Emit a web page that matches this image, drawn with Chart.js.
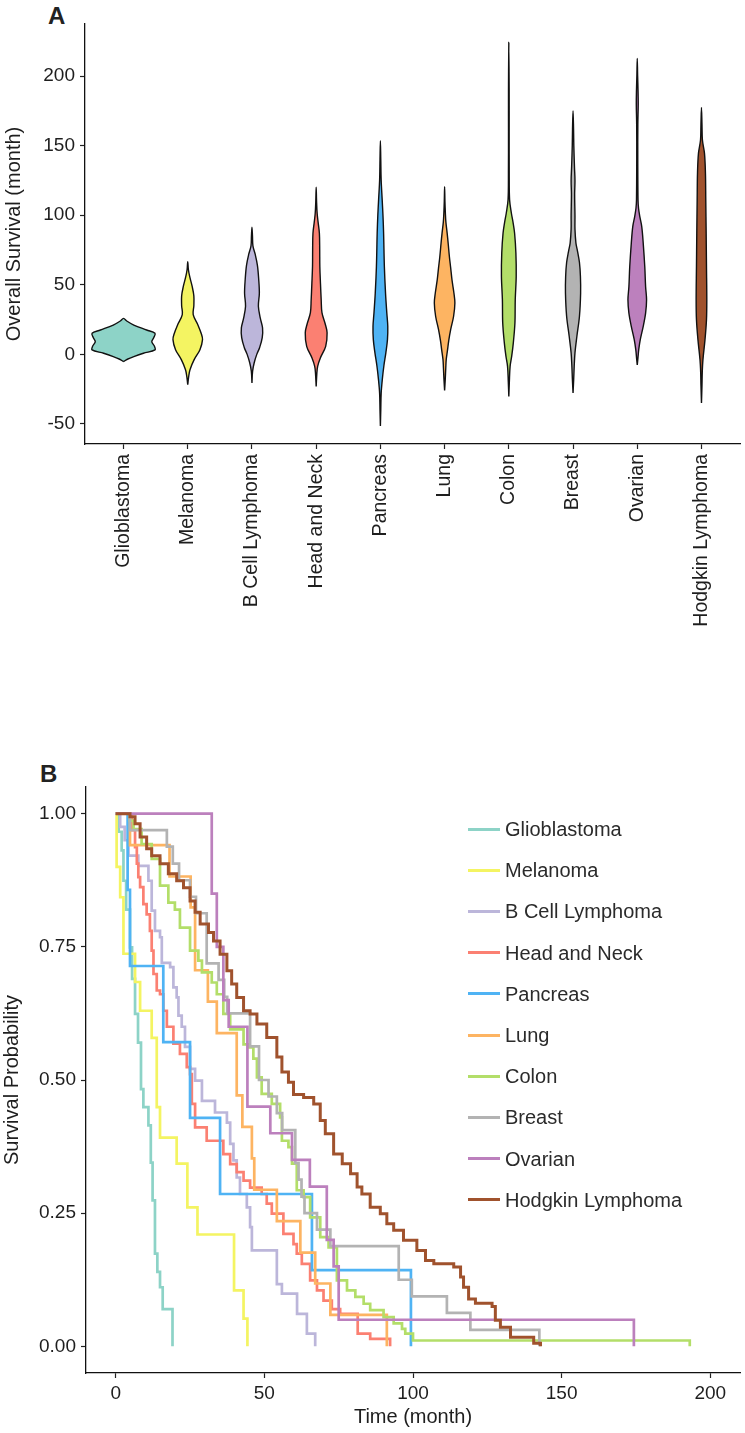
<!DOCTYPE html>
<html>
<head>
<meta charset="utf-8">
<script src="https://cdn.jsdelivr.net/npm/chart.js@4.4.1/dist/chart.umd.min.js"></script>
<style>
  html, body { margin: 0; padding: 0; background: #fff; }
  body { width: 745px; height: 1433px; position: relative; overflow: hidden; font-family: "Liberation Sans", Arial, Helvetica, sans-serif; }
  .panel { position: absolute; font-weight: bold; font-size: 24px; color: #222; line-height: 24px; }
  #c1 { position: absolute; left: 0; top: 0; }
  #c2 { position: absolute; left: 0; top: 760px; }
  .lg { position: absolute; left: 0; top: 0; }
  .lg .sw { position: absolute; width: 32px; height: 3px; }
  .lg .tx { position: absolute; font-size: 20px; color: #2b2b2b; white-space: nowrap; line-height: 20px; }
</style>
</head>
<body>
<div class="panel" style="left:48px; top:4px;">A</div>
<div class="panel" style="left:40px; top:762px;">B</div>
<canvas id="c1" width="745" height="660"></canvas>
<canvas id="c2" width="745" height="673"></canvas>
<div id="legend"></div>
<script>
// ---------- categories, colours ----------
const categories = ['Glioblastoma', 'Melanoma', 'B Cell Lymphoma', 'Head and Neck', 'Pancreas',
                    'Lung', 'Colon', 'Breast', 'Ovarian', 'Hodgkin Lymphoma'];
const colors = ['#8dd3c7', '#f4f462', '#bcb6da', '#fb8072', '#4fb3f4',
                '#fdb462', '#b3de69', '#b3b3b3', '#bc80bd', '#a0522d'];

// ---------- panel A: violin outlines, [survival (month), half density width] ----------
const violinGlioblastoma = [[-5.2,0],[-3.5,0.06],[-1.6,0.16],[0.8,0.31],[3.2,0.49],[6,0.48],[9.1,0.44],[12,0.47],[15.2,0.49],[17.5,0.36],[21.1,0.16],[24,0.05],[25.9,0]];
const violinMelanoma = [[-21.8,0],[-15.8,0.015],[-11,0.035],[-3.8,0.1],[3.4,0.19],[10.6,0.23],[15,0.21],[21,0.16],[28.5,0.085],[35,0.095],[42,0.095],[49,0.068],[56,0.03],[61,0.01],[66.6,0]];
const violinBCell = [[-20.6,0],[-12,0.01],[-6,0.035],[0,0.075],[5,0.12],[12,0.16],[19,0.165],[26,0.13],[34.6,0.1],[44,0.115],[54,0.105],[64,0.085],[72,0.05],[78,0.015],[85,0.008],[91.4,0]];
const violinHeadNeck = [[-23,0],[-14,0.01],[-8.6,0.023],[-2.6,0.065],[5.8,0.148],[15.5,0.17],[22,0.14],[30,0.09],[39.2,0.078],[51,0.067],[63.2,0.057],[75,0.055],[87,0.05],[95,0.03],[101.4,0.015],[110,0.006],[120.2,0]];
const violinPancreas = [[-51.4,0],[-40,0.006],[-28,0.012],[-18,0.03],[-8,0.055],[1.1,0.085],[10.6,0.11],[20.2,0.115],[29.7,0.1],[44,0.08],[63,0.062],[87,0.05],[100,0.04],[111,0.028],[125.3,0.012],[140,0.006],[153.5,0]];
const violinLung = [[-26,0],[-18,0.01],[-10,0.018],[-3.8,0.025],[3,0.045],[10,0.065],[17.9,0.095],[27.4,0.14],[36.9,0.16],[44.1,0.145],[53.5,0.115],[62,0.095],[70,0.075],[80,0.055],[87,0.04],[95,0.02],[101.4,0.012],[110,0.005],[120.5,0]];
const violinColon = [[-30.3,0],[-20,0.008],[-8.6,0.02],[-1.3,0.045],[8.3,0.07],[22.6,0.095],[39.3,0.1],[56.1,0.115],[72.8,0.11],[87,0.09],[95,0.065],[101.4,0.04],[111,0.012],[130,0.006],[160,0.005],[190,0.005],[224.2,0]];
const violinBreast = [[-27.7,0],[-18,0.01],[-8.6,0.018],[1.1,0.03],[13,0.06],[27.4,0.1],[44.1,0.118],[56.1,0.115],[66,0.1],[74,0.07],[80,0.045],[90,0.03],[100,0.03],[115,0.025],[125,0.03],[135,0.022],[150,0.012],[162,0.008],[175.1,0]];
const violinOvarian = [[-7.6,0],[-2,0.012],[3.4,0.023],[10.6,0.047],[20.2,0.093],[29.7,0.13],[39.2,0.145],[48.7,0.13],[63.1,0.117],[79.8,0.093],[91.8,0.07],[99,0.04],[105,0.02],[111,0.012],[140,0.008],[165,0.009],[180,0.015],[190,0.012],[200,0.006],[212.7,0]];
const violinHodgkin = [[-35,0],[-22,0.008],[-13.3,0.012],[-3.8,0.023],[10.6,0.055],[24.9,0.078],[39.2,0.083],[63.1,0.078],[87,0.073],[110.9,0.067],[130,0.062],[144.4,0.047],[154,0.015],[165,0.008],[177.5,0]];
const violins = [violinGlioblastoma, violinMelanoma, violinBCell, violinHeadNeck, violinPancreas,
                 violinLung, violinColon, violinBreast, violinOvarian, violinHodgkin];
const survivalTicks = [-50, 0, 50, 100, 150, 200];

// ---------- panel B: Kaplan-Meier curves, [time (month), survival probability] ----------
const kmGlioblastoma = [[0,1],[1,0.966],[2,0.931],[2.6,0.874],[3.5,0.82],[4.8,0.749],[5.5,0.69],[6.5,0.624],[7.5,0.57],[8.5,0.483],[9.3,0.449],[11,0.415],[11.8,0.345],[12.4,0.274],[13.2,0.174],[14,0.14],[14.9,0.111],[15.8,0.07],[19.1,0]];
const kmMelanoma = [[0,1],[0.3,0.9],[1.5,0.843],[2.6,0.737],[6.5,0.684],[8.2,0.63],[12.1,0.579],[13.8,0.449],[14.9,0.392],[20.5,0.343],[24.1,0.261],[27.5,0.21],[39.8,0.105],[43,0.052],[44.3,0]];
const kmBCell = [[0,1],[1.5,0.975],[3,0.95],[4.3,0.921],[7.6,0.902],[11,0.874],[12.1,0.818],[13.2,0.78],[14.9,0.768],[15.5,0.72],[18.3,0.712],[19.4,0.674],[20.5,0.655],[21.1,0.621],[22.2,0.6],[23.3,0.562],[25,0.521],[26.7,0.499],[29,0.461],[33.4,0.439],[37.4,0.42],[38.5,0.38],[39.6,0.349],[40.7,0.317],[41.8,0.286],[44.1,0.261],[45.2,0.224],[45.8,0.18],[54.2,0.117],[55.9,0.099],[61,0.061],[64.3,0.024],[67.1,0]];
const kmHeadNeck = [[0,1],[4.8,0.994],[5.4,0.969],[6.5,0.937],[7.1,0.906],[7.6,0.881],[8.2,0.862],[9.3,0.83],[10.4,0.811],[11.5,0.78],[12.1,0.743],[12.7,0.699],[13.8,0.668],[14.9,0.661],[16,0.63],[17.2,0.6],[19.4,0.568],[21.6,0.549],[23.9,0.524],[25,0.511],[25.6,0.455],[26.7,0.411],[30.6,0.386],[36.2,0.361],[38.5,0.342],[40.7,0.327],[43,0.311],[45.2,0.298],[49.1,0.286],[50.8,0.268],[52.5,0.249],[56.4,0.211],[59.8,0.192],[60.9,0.174],[62.6,0.155],[65.4,0.124],[67.7,0.105],[69.9,0.086],[72.7,0.07],[75.5,0.061],[81.4,0.024],[85.6,0.014],[92.3,0]];
const kmPancreas = [[0,1],[4,0.857],[4.8,0.714],[16,0.571],[25,0.429],[35.1,0.286],[66,0.143],[99.3,0]];
const kmLung = [[0,1],[4.8,0.941],[18.1,0.882],[25.2,0.824],[26.7,0.706],[31,0.647],[34,0.588],[40.7,0.471],[42.6,0.412],[45.8,0.353],[46.6,0.294],[54.2,0.235],[62.1,0.176],[67.1,0.118],[72.2,0.059],[91.2,0]];
const kmColon = [[0,1],[4.8,0.987],[6,0.971],[8.7,0.943],[12.1,0.915],[14.9,0.865],[17.7,0.833],[19.9,0.82],[21.6,0.786],[25,0.743],[27.8,0.724],[29,0.702],[32.3,0.683],[34,0.661],[36.2,0.624],[38.5,0.595],[43,0.567],[44.6,0.561],[46.3,0.54],[47.5,0.505],[49.1,0.474],[52.5,0.455],[55.3,0.43],[55.9,0.386],[58.1,0.374],[59.3,0.343],[60.9,0.293],[63.2,0.28],[65.4,0.242],[68.8,0.205],[71.6,0.186],[74.4,0.124],[77.8,0.105],[80.6,0.093],[83.4,0.08],[85.6,0.068],[90.1,0.055],[93.5,0.043],[96.3,0.033],[97.4,0.024],[100,0.011],[193.1,0]];
const kmBreast = [[0,1],[4.8,0.969],[17.2,0.938],[19.2,0.906],[21.3,0.875],[25,0.844],[27,0.813],[30.6,0.719],[34.6,0.688],[36.5,0.656],[37.5,0.625],[45.2,0.563],[48.2,0.5],[51.4,0.469],[54.2,0.438],[56,0.406],[60.4,0.344],[61.5,0.313],[62.5,0.281],[63.5,0.25],[67.7,0.219],[72.2,0.188],[95.2,0.125],[99.6,0.094],[111.4,0.063],[119.3,0.031],[142.5,0]];
const kmOvarian = [[0,1],[32.3,0.85],[34,0.75],[36.2,0.65],[38,0.6],[44.3,0.45],[52,0.4],[59.3,0.35],[65.3,0.3],[71,0.2],[73.3,0.15],[75,0.05],[174.3,0]];
const kmHodgkin = [[0,1],[4.8,0.994],[6.5,0.981],[8.2,0.956],[10.4,0.934],[12.1,0.921],[14.9,0.906],[17.7,0.887],[20.5,0.874],[22.8,0.861],[25,0.836],[26.7,0.815],[28.4,0.793],[31.2,0.777],[32.9,0.761],[35.1,0.736],[37.4,0.705],[39,0.68],[40.7,0.655],[43,0.63],[45.2,0.624],[47.5,0.605],[50.8,0.58],[54.2,0.543],[55.9,0.515],[58.1,0.496],[59.8,0.473],[63.2,0.467],[66.6,0.455],[68.8,0.424],[70.5,0.399],[73.3,0.361],[76.2,0.343],[79,0.324],[81.2,0.299],[82.8,0.286],[85.6,0.261],[89,0.249],[91.2,0.23],[93.5,0.218],[96.8,0.199],[101.3,0.18],[104.2,0.161],[107,0.155],[113.7,0.149],[116,0.13],[117,0.111],[118.7,0.089],[121,0.081],[126.6,0.075],[127.7,0.049],[129.4,0.036],[132.8,0.017],[140.6,0.006],[142.9,0]];
const kmCurves = [kmGlioblastoma, kmMelanoma, kmBCell, kmHeadNeck, kmPancreas,
                  kmLung, kmColon, kmBreast, kmOvarian, kmHodgkin];
const timeTicks = [0, 50, 100, 150, 200];
const probTicks = [0, 0.25, 0.5, 0.75, 1];

// ---------- shared styling ----------
const FONT = '"Liberation Sans", Arial, Helvetica, sans-serif';
const tickFont = { family: FONT, size: 19 };
const titleFont = { family: FONT, size: 20 };
const axisGrid = { drawOnChartArea: false, drawTicks: true, tickLength: 5, color: '#222', tickWidth: 1.2 };
const axisBorder = { display: true, color: '#111', width: 1.3 };

// ---------- Chart A: violins ----------
const violinDatasets = violins.map((arr, i) => {
  const c = i + 1;
  const right = arr.map(([v, w]) => ({ x: c + w, y: v }));
  const left = arr.slice().reverse().slice(1).map(([v, w]) => ({ x: c - w, y: v }));
  return {
    label: categories[i],
    data: right.concat(left),
    borderColor: '#111',
    borderWidth: 1.4,
    backgroundColor: colors[i],
    fill: 'shape',
    pointRadius: 0,
    tension: 0.35
  };
});

new Chart(document.getElementById('c1'), {
  type: 'line',
  data: { datasets: violinDatasets },
  options: {
    responsive: false, animation: false, devicePixelRatio: 1,
    layout: { padding: { left: 0, top: 24, right: 5, bottom: 0 } },
    plugins: { legend: { display: false }, tooltip: { enabled: false } },
    scales: {
      x: {
        type: 'linear', min: 0.4, max: 10.6,
        afterBuildTicks: s => { s.ticks = categories.map((_, i) => ({ value: i + 1 })); },
        afterFit: s => { s.height = 216; },
        grid: axisGrid, border: axisBorder,
        ticks: {
          autoSkip: false, minRotation: 90, maxRotation: 90, padding: 5,
          color: '#1e1e1e', font: { family: FONT, size: 19.5 },
          callback: v => categories[Math.round(v) - 1]
        }
      },
      y: {
        type: 'linear', min: -64.4, max: 237.4,
        afterBuildTicks: s => { s.ticks = survivalTicks.map(v => ({ value: v })); },
        afterFit: s => { s.width = 85; },
        grid: axisGrid, border: axisBorder,
        ticks: { color: '#1e1e1e', font: tickFont, padding: 5 },
        title: { display: true, text: 'Overall Survival (month)', color: '#1e1e1e', font: titleFont, padding: { top: 2, bottom: 0 } }
      }
    }
  }
});

// ---------- Chart B: Kaplan-Meier ----------
const kmDatasets = kmCurves.map((arr, i) => ({
  label: categories[i],
  data: arr.map(([t, s]) => ({ x: t, y: s })),
  borderColor: colors[i],
  borderWidth: i === 9 ? 3 : 2.7,
  stepped: 'before',
  fill: false,
  pointRadius: 0,
  tension: 0
})).reverse(); // last category drawn on top

new Chart(document.getElementById('c2'), {
  type: 'line',
  data: { datasets: kmDatasets },
  options: {
    responsive: false, animation: false, devicePixelRatio: 1,
    layout: { padding: { left: 0, top: 27, right: 5, bottom: 0 } },
    plugins: { legend: { display: false }, tooltip: { enabled: false } },
    scales: {
      x: {
        type: 'linear', min: -10, max: 210,
        afterBuildTicks: s => { s.ticks = timeTicks.map(v => ({ value: v })); },
        afterFit: s => { s.height = 60; },
        grid: axisGrid, border: axisBorder,
        ticks: { color: '#1e1e1e', font: tickFont, padding: 4, maxRotation: 0 },
        title: { display: true, text: 'Time (month)', color: '#1e1e1e', font: titleFont, padding: { top: 0, bottom: 4 } }
      },
      y: {
        type: 'linear', min: -0.05, max: 1.05,
        afterBuildTicks: s => { s.ticks = probTicks.map(v => ({ value: v })); },
        afterFit: s => { s.width = 86; },
        grid: axisGrid, border: axisBorder,
        ticks: { color: '#1e1e1e', font: tickFont, padding: 5, callback: v => Number(v).toFixed(2) },
        title: { display: true, text: 'Survival Probability', color: '#1e1e1e', font: titleFont, padding: { top: 0, bottom: 0 } }
      }
    }
  }
});

// ---------- legend (HTML) ----------
const lg = document.getElementById('legend');
lg.className = 'lg';
categories.forEach((name, i) => {
  const cy = 829 + 41.2 * i;
  const sw = document.createElement('div');
  sw.className = 'sw';
  sw.style.left = '468px';
  sw.style.top = (cy - 1.5) + 'px';
  sw.style.background = colors[i];
  lg.appendChild(sw);
  const tx = document.createElement('div');
  tx.className = 'tx';
  tx.style.left = '505px';
  tx.style.top = (cy - 10) + 'px';
  tx.textContent = name;
  lg.appendChild(tx);
});
</script>
</body>
</html>
